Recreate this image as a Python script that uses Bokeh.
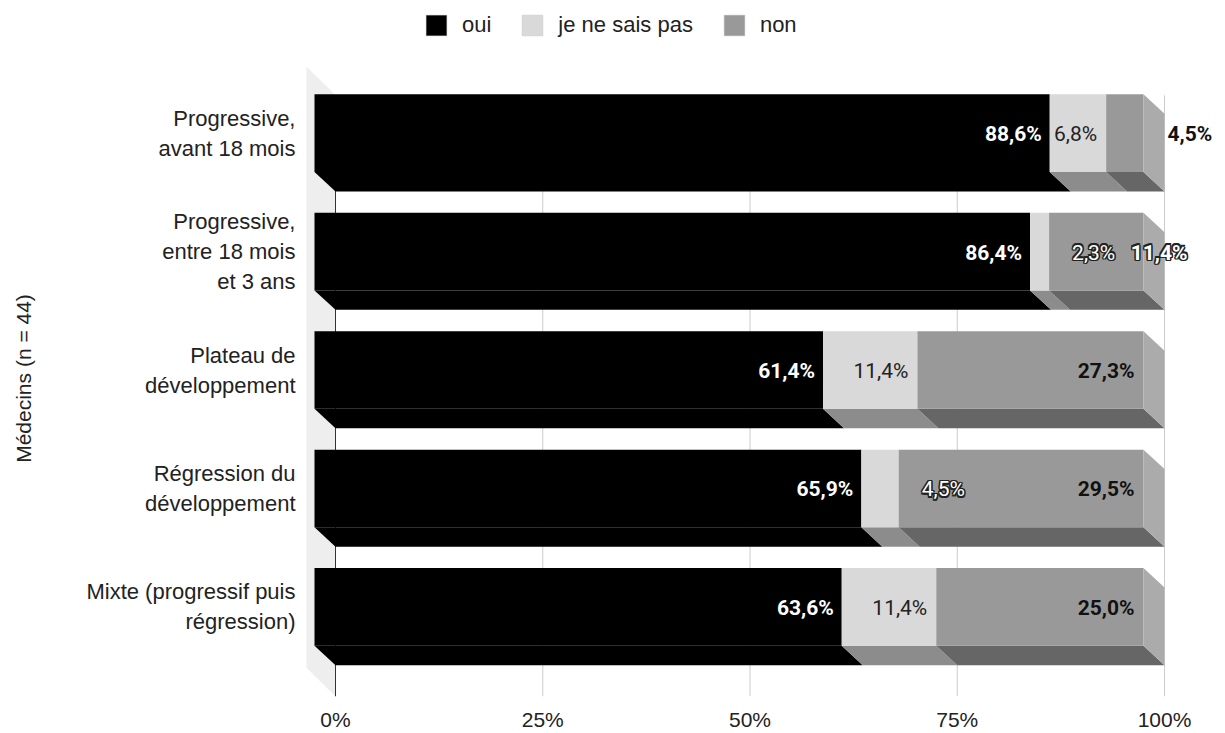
import numpy as np
from bokeh.plotting import figure
from bokeh.layouts import column
from bokeh.models import Range1d, FixedTicker, Legend, LegendItem
from bokeh.core.properties import value
from bokeh.embed import file_html
from bokeh.resources import INLINE

# ---------------- data ----------------
categories = [
    "Progressive,\navant 18 mois",
    "Progressive,\nentre 18 mois\net 3 ans",
    "Plateau de\ndéveloppement",
    "Régression du\ndéveloppement",
    "Mixte (progressif puis\nrégression)",
]
series_names = ["oui", "je ne sais pas", "non"]
oui = [88.6, 86.4, 61.4, 65.9, 63.6]
jsp = [6.8, 2.3, 11.4, 4.5, 11.4]
non = [4.5, 11.4, 27.3, 29.5, 25.0]
x_ticks = [0, 25, 50, 75, 100]
x_tick_labels = ["0%", "25%", "50%", "75%", "100%"]
y_title = "Médecins (n = 44)"

# ---------------- styles / geometry ----------------
FACE = ["#000000", "#d9d9d9", "#999999"]
BOTTOM = ["#000000", "#8c8c8c", "#666666"]
SIDE = "#ababab"
WALL = "#eeeeee"
PXX = 8.29      # pixels per percent
PXY = 119.0     # pixels per category step
W = 1217
LEG_H = 60
H = 733 - LEG_H
BL, BR, BT, BB = 300, 0, 0, 34
frame_w = W - BL - BR
frame_h = H - BT - BB
x0 = -35 / PXX
y0 = -90 / PXY
DX = 21 / PXX       # bar depth (x)
DY = 19.5 / PXY     # bar depth (y)
HH = 39 / PXY       # half front-face height
WDX = 29 / PXX      # wall depth
WDY = 29 / PXY
wall_top = 514 / PXY

n = len(categories)
centers = [n - 1 - k for k in range(n)]
total = [a + b + c for a, b, c in zip(oui, jsp, non)]
series = [oui, jsp, non]
norm = [[v / t * 100 for v, t in zip(s, total)] for s in series]

p = figure(width=W, height=H, output_backend="svg", toolbar_location=None,
           x_range=Range1d(x0, x0 + frame_w / PXX),
           y_range=Range1d(y0, y0 + frame_h / PXY),
           min_border_left=BL, min_border_right=BR, min_border_top=BT, min_border_bottom=BB)
p.outline_line_color = None
p.xgrid.visible = False
p.ygrid.visible = False
p.background_fill_color = "white"

# wall
p.patch([-WDX, 0, 0, -WDX], [wall_top + WDY, wall_top, y0, y0 + WDY],
        fill_color=WALL, line_color=None)

# grid lines (back plane)
p.segment(x0=x_ticks, y0=[y0] * len(x_ticks), x1=x_ticks, y1=[wall_top] * len(x_ticks),
          line_color=["#333333" if t == 0 else "#cccccc" for t in x_ticks], line_width=1)

# bars
starts = [[0.0] * n]
for s in norm[:-1]:
    starts.append([a + b for a, b in zip(starts[-1], s)])

for si, s in enumerate(norm):
    fx, fy, bx, by = [], [], [], []
    for k in range(n):
        a = starts[si][k]
        b = a + s[k]
        c = centers[k]
        fx.append([a - DX, b - DX, b - DX, a - DX])
        fy.append([c + HH, c + HH, c - HH, c - HH])
        bx.append([a - DX, b - DX, b, a])
        by.append([c - HH, c - HH, c - HH - DY, c - HH - DY])
    p.patches(bx, by, fill_color=BOTTOM[si], line_color=None)
    p.patches(fx, fy, fill_color=FACE[si], line_color=None)

# right side faces
sx, sy = [], []
for k in range(n):
    c = centers[k]
    sx.append([100 - DX, 100, 100, 100 - DX])
    sy.append([c + HH, c + HH - DY, c - HH - DY, c - HH])
p.patches(sx, sy, fill_color=SIDE, line_color=None)

# ---------------- data labels ----------------
def fmt(v):
    return f"{v:.1f}".replace(".", ",") + "%"

groups = {}
def add(key, x, y, t):
    groups.setdefault(key, ([], [], []))
    groups[key][0].append(x)
    groups[key][1].append(y)
    groups[key][2].append(t)

for k in range(n):
    c = centers[k]
    add("oui", norm[0][k] - DX, c, fmt(oui[k]))
    end_jsp = starts[2][k]
    if jsp[k] >= 5:
        add("jsp_in", end_jsp - DX, c, fmt(jsp[k]))
    else:
        add("jsp_out", end_jsp - DX, c, fmt(jsp[k]))
    if non[k] >= 20:
        add("non_in", 100 - DX, c, fmt(non[k]))
    elif non[k] < 5:
        add("non_out", 100, c, fmt(non[k]))
    else:
        add("non_mid", 100, c, fmt(non[k]))

styles = {
    "oui": dict(text_color="white", text_font_style="bold", text_align="right", x_offset=-8),
    "jsp_in": dict(text_color="#222222", text_font_style="normal", text_align="right", x_offset=-9),
    "jsp_out": dict(text_color="white", text_font_style="normal", text_align="left", x_offset=23),
    "non_in": dict(text_color="#111111", text_font_style="bold", text_align="right", x_offset=-9),
    "non_out": dict(text_color="#111111", text_font_style="bold", text_align="left", x_offset=3),
    "non_mid": dict(text_color="white", text_font_style="bold", text_align="right", x_offset=23),
}
halo = {"jsp_out", "non_mid"}
halo_offsets = [(-1.2, -1.2), (1.2, -1.2), (-1.2, 1.2), (1.2, 1.2), (-1.5, 0), (1.5, 0), (0, -1.5), (0, 1.5)]
for key, (xs, ys, ts) in groups.items():
    st = dict(styles[key])
    if key in halo:
        for ox, oy in halo_offsets:
            hs = dict(st)
            hs["text_color"] = "#222222"
            hs["x_offset"] = st["x_offset"] + ox
            p.text(x=xs, y=ys, text=ts, text_font=value("Roboto"), text_font_size="21px",
                   text_baseline="middle", y_offset=1 + oy, **hs)
    p.text(x=xs, y=ys, text=ts, text_font=value("Roboto"), text_font_size="21px",
           text_baseline="middle", y_offset=1, **st)

# ---------------- axes ----------------
p.xaxis.ticker = FixedTicker(ticks=x_ticks)
p.xaxis.major_label_overrides = {t: l for t, l in zip(x_ticks, x_tick_labels)}
p.xaxis.axis_line_color = None
p.xaxis.major_tick_line_color = None
p.xaxis.minor_tick_line_color = None
p.xaxis.major_tick_out = 0
p.xaxis.major_tick_in = 0
p.xaxis.major_label_standoff = 11
p.xaxis.major_label_text_font = "Liberation Sans"
p.xaxis.major_label_text_font_size = "21px"
p.xaxis.major_label_text_color = "#222222"

p.yaxis.ticker = FixedTicker(ticks=centers)
p.yaxis.major_label_overrides = {c: lab for c, lab in zip(centers, categories)}
p.yaxis.axis_line_color = None
p.yaxis.major_tick_line_color = None
p.yaxis.minor_tick_line_color = None
p.yaxis.major_tick_out = 0
p.yaxis.major_tick_in = 0
p.yaxis.major_label_standoff = 5
p.yaxis.major_label_text_font = "Liberation Sans"
p.yaxis.major_label_text_font_size = "22px"
p.yaxis.major_label_text_color = "#222222"
p.yaxis.axis_label = y_title
p.yaxis.axis_label_standoff = 48
p.yaxis.axis_label_text_font = "Liberation Sans"
p.yaxis.axis_label_text_font_size = "21px"
p.yaxis.axis_label_text_font_style = "normal"
p.yaxis.axis_label_text_color = "#222222"

# ---------------- legend (own strip above the chart) ----------------
lg = figure(width=W, height=LEG_H, output_backend="svg", toolbar_location=None,
            x_range=Range1d(0, 1), y_range=Range1d(0, 1),
            min_border_left=BL, min_border_right=BR, min_border_top=0, min_border_bottom=0)
lg.axis.visible = False
lg.grid.visible = False
lg.outline_line_color = None
swatches = [lg.quad(left=[np.nan], right=[np.nan], top=[np.nan], bottom=[np.nan],
                    fill_color=FACE[i], line_color="#cccccc", line_width=0.5) for i in range(3)]
legend = Legend(
    items=[LegendItem(label=nm, renderers=[r]) for nm, r in zip(series_names, swatches)],
    location=(123, 22), orientation="horizontal",
    glyph_width=26, glyph_height=26, label_standoff=13, spacing=28,
    padding=0, margin=0, border_line_color=None, background_fill_alpha=0,
    label_text_font="Liberation Sans", label_text_font_size="22px", label_text_color="#222222",
)
lg.add_layout(legend)

open("out.html", "w").write(file_html(column(lg, p, spacing=0), INLINE))
